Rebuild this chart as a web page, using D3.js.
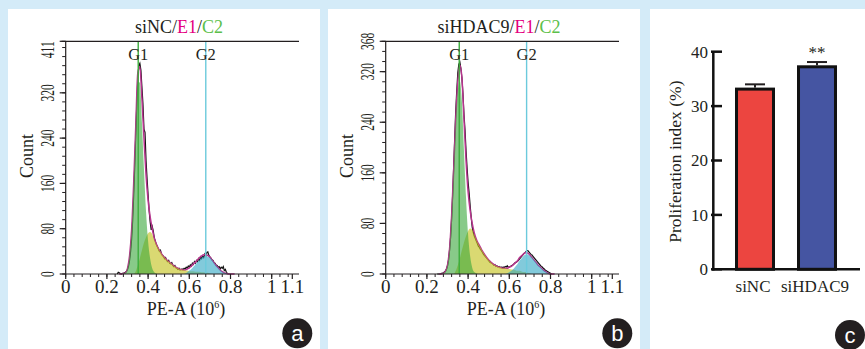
<!DOCTYPE html>
<html>
<head>
<meta charset="utf-8">
<script src="https://cdn.jsdelivr.net/npm/d3@7"></script>
<style>
  body { margin: 0; background: #d4ebf8; }
  text { font-family: "Liberation Serif", "Times New Roman", serif; fill: #231f20; }
</style>
</head>
<body>
<div id="chart"></div>
<script>
// raw histogram bins: 0.25 .. step 0.005 (PE-A, 10^6)
const rawStart = 0.25, rawStep = 0.005;
// fitted model bins: 0.26 .. 0.82 step 0.01
const fitStart = 0.26, fitStep = 0.01;

const rawNC = [
  0, 3, 2, 1, 0, 1, 1, 2, 3, 5,
  8, 14, 24, 40, 62, 95, 140, 190, 245, 300,
  345, 368, 372, 360, 330, 300, 256, 250, 200, 168,
  140, 112, 92, 78, 84, 76, 64, 58, 52, 48,
  44, 40, 42, 35, 33, 31, 27, 29, 24, 22,
  24, 19, 18, 20, 15, 13, 15, 11, 10, 8,
  10, 7, 8, 9, 8, 10, 9, 12, 10, 14,
  12, 16, 14, 19, 17, 22, 19, 24, 22, 27,
  24, 30, 27, 32, 29, 35, 31, 38, 39, 33,
  30, 28, 25, 24, 20, 19, 16, 15, 12, 13,
  9, 12, 10, 13, 6, 8, 3, 1, 0
];
const g1NC = [0, 0, 1, 2, 10, 32, 78, 160, 255, 340, 338, 268, 185, 110, 58, 27, 10, 3, 1, 0,
  0, 0, 0, 0, 0, 0, 0, 0, 0, 0, 0, 0, 0, 0, 0, 0, 0, 0, 0, 0, 0, 0, 0, 0, 0, 0, 0, 0, 0, 0, 0, 0, 0, 0, 0, 0, 0];
const sNC = [0, 0, 0, 0, 0, 0, 0, 0,
  5, 15, 28, 42, 55, 65, 72, 74, 70, 60, 52, 45, 39, 33, 29, 25, 22, 19, 16, 13, 11, 9,
  8, 7, 6, 6, 5, 5, 5, 4, 4, 4, 3, 3, 2, 2, 1, 0,
  0, 0, 0, 0, 0, 0, 0, 0, 0, 0, 0];
const g2NC = [0, 0, 0, 0, 0, 0, 0, 0, 0, 0, 0, 0, 0, 0, 0, 0, 0, 0, 0, 0, 0, 0, 0, 0, 0, 0, 0, 0, 0, 0, 0, 0,
  1, 3, 6, 9, 13, 17, 21, 25, 29, 31, 32, 31, 29, 25, 20, 15, 11, 7, 4, 2, 1, 0, 0, 0, 0];

const rawHD = [
  0, 0, 0, 0, 1, 1, 2, 3, 5, 8,
  13, 22, 38, 58, 88, 125, 170, 215, 258, 290,
  318, 332, 335, 325, 310, 285, 252, 228, 195, 168,
  145, 128, 108, 90, 74, 66, 60, 56, 52, 48,
  44, 42, 39, 37, 34, 31, 29, 27, 25, 23,
  21, 19, 18, 17, 16, 14, 15, 12, 13, 11,
  12, 10, 11, 10, 11, 10, 12, 11, 13, 11,
  11, 12, 13, 14, 15, 17, 18, 19, 20, 22,
  24, 26, 28, 30, 32, 33, 35, 37, 37, 35,
  33, 31, 30, 28, 26, 24, 22, 20, 18, 16,
  14, 12, 11, 9, 8, 6, 5, 4, 3, 2,
  1, 0
];
const g1HD = [0, 0, 1, 4, 14, 40, 92, 165, 240, 290, 305, 272, 195, 120, 62, 28, 10, 3, 1, 0,
  0, 0, 0, 0, 0, 0, 0, 0, 0, 0, 0, 0, 0, 0, 0, 0, 0, 0, 0, 0, 0, 0, 0, 0, 0, 0, 0, 0, 0, 0, 0, 0, 0, 0, 0, 0, 0];
const sHD = [0, 0, 0, 0, 0, 0, 0, 0,
  5, 14, 25, 38, 50, 60, 68, 72, 70, 62, 54, 48, 42, 36, 31, 26, 22, 19, 16, 14, 12, 11,
  10, 9, 9, 8, 8, 7, 7, 6, 5, 5, 4, 3, 3, 2, 1, 0,
  0, 0, 0, 0, 0, 0, 0, 0, 0, 0, 0];
const g2HD = [0, 0, 0, 0, 0, 0, 0, 0, 0, 0, 0, 0, 0, 0, 0, 0, 0, 0, 0, 0, 0, 0, 0, 0, 0, 0, 0, 0, 0, 0, 0, 0, 0,
  1, 3, 5, 8, 12, 16, 21, 25, 29, 31, 31, 29, 26, 22, 18, 14, 11, 8, 5, 3, 1, 0, 0, 0];

const xTicks = [0, 0.2, 0.4, 0.6, 0.8, 1, 1.1];
const yTicksNC = [0, 80, 160, 240, 320, 411];
const yTicksHD = [0, 80, 160, 240, 320, 368];
const gatesNC = [0.352, 0.68];
const gatesHD = [0.357, 0.684];

// bar chart
const groups = ["siNC", "siHDAC9"];
const prolif = [33.4, 37.5];
const prolifErr = [0.6, 0.6];
const barColors = ["#ec4540", "#4555a2"];
const yTicksBar = [0, 10, 20, 30, 40];

const W = 865, H = 349;
const svg = d3.select("#chart").append("svg")
  .attr("width", W).attr("height", H)
  .attr("viewBox", [0, 0, W, H]);

svg.append("rect").attr("width", W).attr("height", H).attr("fill", "#d4ebf8");
[[8, 312], [328, 312], [650, 215]].forEach(([x, w]) => {
  svg.append("rect").attr("x", x).attr("y", 9).attr("width", w).attr("height", H - 9).attr("fill", "#fff");
});

function badge(cx, cy, letter) {
  svg.append("circle").attr("cx", cx).attr("cy", cy).attr("r", 15).attr("fill", "#231f20");
  svg.append("text").attr("x", cx).attr("y", cy + 7.5)
    .attr("text-anchor", "middle")
    .style("font-family", "'Liberation Sans', Arial, sans-serif")
    .style("font-size", "22px").style("fill", "#fff").text(letter);
}

function histogram(dx, title, raw, g1, s, g2, yTicks, gates, topEnd, letter) {
  const g = svg.append("g").attr("transform", `translate(${dx},0)`);
  const x = d3.scaleLinear().domain([0, 1.1]).range([65.7, 292.3]);
  const yMax = yTicks[yTicks.length - 1];
  const y = d3.scaleLinear().domain([0, yMax]).range([274, 41.3]);

  const rawPts = raw.map((v, i) => [rawStart + i * rawStep, v]);
  const comp = arr => arr.map((v, i) => [fitStart + i * fitStep, v]);
  const total = g1.map((v, i) => [fitStart + i * fitStep, v + s[i] + g2[i]]);

  const line = d3.line().x(d => x(d[0])).y(d => y(d[1]));
  const smooth = d3.line().x(d => x(d[0])).y(d => y(d[1])).curve(d3.curveMonotoneX);
  const area = d3.area().x(d => x(d[0])).y0(y(0)).y1(d => y(d[1])).curve(d3.curveMonotoneX);

  g.append("path").attr("d", line(rawPts)).attr("fill", "none")
    .attr("stroke", "#111").attr("stroke-width", 1.2);
  g.append("path").attr("d", smooth(total)).attr("fill", "none")
    .attr("stroke", "#b8348e").attr("stroke-width", 1.5);

  g.append("path").attr("d", area(comp(s))).attr("fill", "#c3c21c").attr("fill-opacity", 0.62);
  g.append("path").attr("d", area(comp(g1))).attr("fill", "#38a63a").attr("fill-opacity", 0.6);
  g.append("path").attr("d", area(comp(g2))).attr("fill", "#2ea7c3").attr("fill-opacity", 0.6);

  // gate lines
  const gateColors = ["#3cad3c", "#6ccadc"];
  gates.forEach((v, i) => {
    g.append("line").attr("x1", x(v)).attr("x2", x(v)).attr("y1", y(yMax)).attr("y2", y(0))
      .attr("stroke", gateColors[i]).attr("stroke-width", 1.4);
    g.append("text").attr("x", x(v)).attr("y", 60).attr("text-anchor", "middle")
      .style("font-size", "16.5px").text("G" + (i + 1));
  });

  // axes
  const axisEnd = 299;
  g.append("line").attr("x1", 61.5).attr("x2", axisEnd).attr("y1", y(yMax)).attr("y2", y(yMax))
    .attr("stroke", "#231f20").attr("stroke-width", 1.2);
  g.append("line").attr("x1", x(0)).attr("x2", x(0)).attr("y1", y(yMax)).attr("y2", y(0))
    .attr("stroke", "#231f20").attr("stroke-width", 1.2);
  g.append("line").attr("x1", x(0)).attr("x2", axisEnd).attr("y1", y(0)).attr("y2", y(0))
    .attr("stroke", "#231f20").attr("stroke-width", 1.2);

  const xMinor = d3.range(0, 1.1001, 0.04);
  g.selectAll(".xminor").data(xMinor).join("line")
    .attr("x1", d => x(d)).attr("x2", d => x(d)).attr("y1", y(0)).attr("y2", y(0) + 3)
    .attr("stroke", "#231f20").attr("stroke-width", 1);
  g.selectAll(".xmajor").data(xTicks).join("line")
    .attr("x1", d => x(d)).attr("x2", d => x(d)).attr("y1", y(0)).attr("y2", y(0) + 5)
    .attr("stroke", "#231f20").attr("stroke-width", 1.2);
  g.selectAll(".xlab").data(xTicks).join("text")
    .attr("x", d => x(d)).attr("y", 293).attr("text-anchor", "middle")
    .style("font-size", "19px").text(d => d);

  const yMinor = d3.range(0, yMax, 16);
  g.selectAll(".yminor").data(yMinor).join("line")
    .attr("x1", x(0) - 3.5).attr("x2", x(0)).attr("y1", d => y(d)).attr("y2", d => y(d))
    .attr("stroke", "#231f20").attr("stroke-width", 1);
  g.selectAll(".ymajor").data(yTicks).join("line")
    .attr("x1", x(0) - 6).attr("x2", x(0)).attr("y1", d => y(d)).attr("y2", d => y(d))
    .attr("stroke", "#231f20").attr("stroke-width", 1.2);
  g.selectAll(".ylab").data(yTicks).join("text")
    .attr("transform", d => `translate(53.5,${y(d)}) rotate(-90) scale(0.64,1)`)
    .attr("text-anchor", d => (topEnd && d === yMax) ? "end" : "middle")
    .style("font-size", "18px").text(d => d);

  g.append("text").attr("transform", "translate(33,156) rotate(-90)")
    .attr("text-anchor", "middle").style("font-size", "18px").text("Count");

  const xl = g.append("text").attr("x", 186).attr("y", 315).attr("text-anchor", "middle")
    .style("font-size", "18px");
  xl.append("tspan").text("PE-A (10");
  xl.append("tspan").attr("dy", -7).style("font-size", "10px").text("6");
  xl.append("tspan").attr("dy", 7).text(")");

  const t = g.append("text").attr("x", 179).attr("y", 33).attr("text-anchor", "middle")
    .style("font-size", "18px");
  t.append("tspan").text(title + "/");
  t.append("tspan").style("fill", "#e4007f").text("E1");
  t.append("tspan").text("/");
  t.append("tspan").style("fill", "#5cbf4a").text("C2");

  badge(dx + 297.3, 333.3, letter);
}

histogram(0, "siNC", rawNC, g1NC, sNC, g2NC, yTicksNC, gatesNC, true, "a");
histogram(320, "siHDAC9", rawHD, g1HD, sHD, g2HD, yTicksHD, gatesHD, false, "b");

// panel c: proliferation index
const bx = d3.scaleBand().domain(groups).range([713, 859]).padding(0.355);
const by = d3.scaleLinear().domain([0, 40]).range([269.3, 51.7]);
const c = svg.append("g");

groups.forEach((k, i) => {
  const cx = bx(k) + bx.bandwidth() / 2;
  c.append("line").attr("x1", cx).attr("x2", cx)
    .attr("y1", by(prolif[i])).attr("y2", by(prolif[i] + prolifErr[i]))
    .attr("stroke", "#231f20").attr("stroke-width", 2);
  c.append("line").attr("x1", cx - 10).attr("x2", cx + 10)
    .attr("y1", by(prolif[i] + prolifErr[i])).attr("y2", by(prolif[i] + prolifErr[i]))
    .attr("stroke", "#231f20").attr("stroke-width", 2);
  c.append("rect").attr("x", bx(k) + 1.5).attr("width", bx.bandwidth() - 3)
    .attr("y", by(prolif[i]) + 1.5).attr("height", by(0) - by(prolif[i]) - 1.5)
    .attr("fill", barColors[i]).attr("stroke", "#111").attr("stroke-width", 3);
  c.append("text").attr("x", cx - 2).attr("y", 292).attr("text-anchor", "middle")
    .style("font-size", "17px").text(k);
});

c.append("text").attr("x", bx("siHDAC9") + bx.bandwidth() / 2).attr("y", 58)
  .attr("text-anchor", "middle").style("font-size", "17px").text("**");

c.append("line").attr("x1", 713.3).attr("x2", 713.3).attr("y1", by(40)).attr("y2", by(0) + 1.2)
  .attr("stroke", "#111").attr("stroke-width", 2.5);
c.append("line").attr("x1", 712).attr("x2", 860).attr("y1", by(0)).attr("y2", by(0))
  .attr("stroke", "#111").attr("stroke-width", 2.5);
c.selectAll(".bt").data(yTicksBar).join("line")
  .attr("x1", 711).attr("x2", 722).attr("y1", d => by(d)).attr("y2", d => by(d))
  .attr("stroke", "#111").attr("stroke-width", 2.5);
c.selectAll(".bl").data(yTicksBar).join("text")
  .attr("x", 708).attr("y", d => by(d)).attr("dy", "0.35em").attr("text-anchor", "end")
  .style("font-size", "17px").text(d => d);
c.append("text").attr("transform", "translate(681,161.7) rotate(-90)")
  .attr("text-anchor", "middle").style("font-size", "17.5px").text("Proliferation index (%)");

badge(850, 335, "c");
</script>
</body>
</html>
